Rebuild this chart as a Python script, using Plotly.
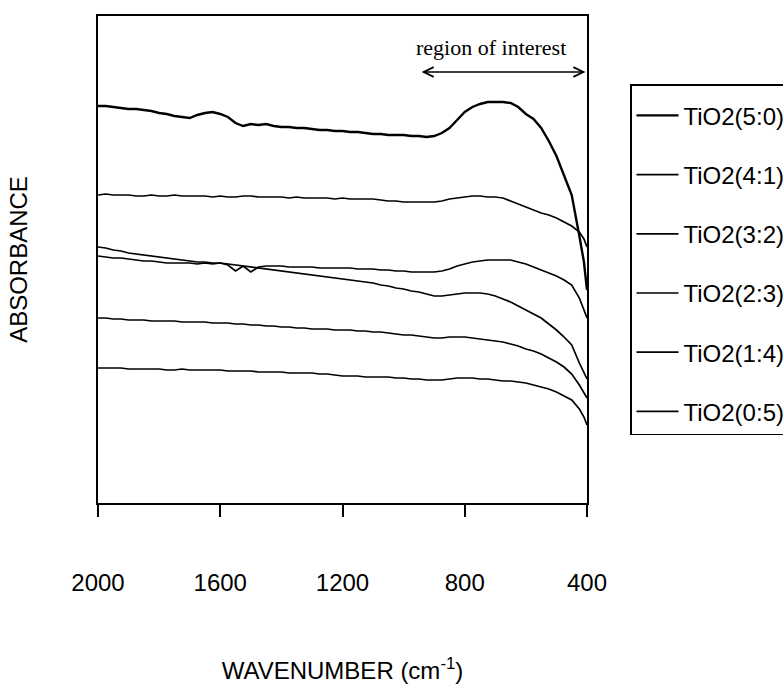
import plotly.graph_objects as go

# FTIR spectra of TiO2 samples (offset absorbance, arbitrary units)
wavenumber = [2000, 1975, 1950, 1925, 1900, 1875, 1850, 1825, 1800, 1775,
              1750, 1725, 1700, 1675, 1650, 1625, 1600, 1575, 1550, 1525,
              1500, 1475, 1450, 1425, 1400, 1375, 1350, 1325, 1300, 1275,
              1250, 1225, 1200, 1175, 1150, 1125, 1100, 1075, 1050, 1025,
              1000, 975, 950, 925, 900, 875, 850, 825, 800, 775,
              750, 725, 700, 675, 650, 625, 600, 575, 550, 525,
              500, 475, 450, 425, 410, 400]

tio2_5_0 = [397, 397, 396, 395, 394, 394, 393, 392, 390, 389,
            387, 386, 385, 388, 390, 391, 389, 386, 380, 377,
            379, 378, 379, 377, 376, 376, 375, 375, 374, 373,
            373, 372, 372, 371, 371, 370, 369, 369, 368, 368,
            368, 367, 367, 366, 367, 370, 375, 383, 391, 396,
            399, 401, 401, 401, 400, 396, 389, 384, 375, 362,
            347, 328, 308, 267, 241, 213]
tio2_4_1 = [308, 309, 308, 308, 308, 307, 307, 308, 307, 307,
            308, 307, 307, 307, 307, 306, 307, 306, 306, 307,
            307, 306, 306, 306, 306, 305, 306, 305, 305, 305,
            305, 304, 305, 304, 304, 304, 304, 303, 302, 302,
            301, 301, 301, 301, 301, 302, 304, 305, 306, 307,
            307, 306, 306, 305, 302, 299, 296, 293, 290, 288,
            285, 281, 277, 271, 264, 256]
tio2_3_2 = [247, 246, 245, 245, 244, 243, 242, 242, 241, 240,
            240, 240, 240, 239, 240, 239, 240, 238, 232, 237,
            231, 236, 237, 237, 237, 236, 236, 236, 236, 235,
            235, 235, 235, 235, 234, 234, 234, 233, 233, 232,
            232, 231, 231, 231, 231, 232, 234, 237, 239, 241,
            242, 243, 243, 243, 243, 241, 239, 236, 233, 230,
            227, 223, 218, 205, 194, 185]
tio2_2_3 = [256, 255, 253, 252, 250, 249, 248, 247, 246, 245,
            244, 243, 242, 241, 241, 240, 240, 239, 238, 237,
            236, 235, 234, 233, 232, 231, 230, 229, 228, 227,
            226, 225, 224, 223, 222, 221, 220, 218, 217, 215,
            214, 212, 211, 209, 207, 207, 208, 209, 210, 210,
            210, 209, 207, 204, 201, 197, 193, 189, 185, 179,
            173, 166, 158, 140, 131, 124]
tio2_1_4 = [185, 185, 184, 184, 183, 183, 183, 182, 182, 182,
            182, 181, 181, 181, 181, 180, 180, 180, 179, 179,
            178, 178, 177, 177, 176, 176, 175, 175, 174, 174,
            174, 173, 173, 173, 172, 172, 171, 171, 170, 169,
            168, 168, 167, 166, 165, 165, 166, 166, 166, 165,
            164, 163, 162, 161, 159, 157, 154, 152, 149, 145,
            141, 136, 129, 118, 111, 105]
tio2_0_5 = [135, 135, 135, 135, 134, 134, 134, 134, 134, 133,
            133, 134, 133, 133, 133, 133, 133, 132, 132, 132,
            132, 131, 131, 131, 131, 130, 130, 130, 130, 129,
            129, 128, 127, 127, 127, 126, 126, 126, 126, 125,
            125, 124, 124, 123, 123, 123, 124, 125, 125, 125,
            124, 124, 123, 122, 122, 121, 120, 118, 116, 114,
            111, 107, 103, 94, 86, 78]

sample_labels = ["TiO2(5:0)", "TiO2(4:1)", "TiO2(3:2)",
                 "TiO2(2:3)", "TiO2(1:4)", "TiO2(0:5)"]
spectra = [tio2_5_0, tio2_4_1, tio2_3_2, tio2_2_3, tio2_1_4, tio2_0_5]
line_widths = [2.4, 1.7, 1.7, 1.7, 1.7, 1.7]

tick_values = [2000, 1600, 1200, 800, 400]
tick_labels = ["2000", "1600", "1200", "800", "400"]

# region of interest (cm-1)
roi_start = 946
roi_end = 405

SANS = "Liberation Sans, Arial, sans-serif"
SERIF = "Liberation Serif, Times New Roman, serif"

fig = go.Figure()
for label, values, lw in zip(sample_labels, spectra, line_widths):
    fig.add_trace(go.Scatter(
        x=wavenumber, y=values, mode="lines", name=label,
        legendgroup=label,
        line=dict(color="black", width=lw),
    ))

fig.update_layout(
    width=783, height=684,
    margin=dict(l=98, r=196, t=16, b=181, autoexpand=False),
    paper_bgcolor="white", plot_bgcolor="white",
    font=dict(family=SANS, size=24, color="black"),
    showlegend=True,
    legend=dict(
        x=(630 - 98) / 489, y=(503 - 84) / 487,
        xanchor="left", yanchor="top",
        bgcolor="white", bordercolor="black", borderwidth=1.5,
        font=dict(family=SANS, size=24, color="black"),
        title=dict(text=" ", font=dict(size=6)),
        itemwidth=42, tracegroupgap=25,
    ),
    xaxis=dict(
        range=[2000, 400],
        tickvals=tick_values, ticktext=tick_labels,
        ticks="outside", ticklen=12, tickwidth=1.5, tickcolor="black",
        ticklabelstandoff=45,
        showline=True, linecolor="black", linewidth=1.5, mirror=True,
        showgrid=False, zeroline=False,
        tickfont=dict(family=SANS, size=24),
        title=dict(text="WAVENUMBER (cm<sup>-1</sup>)",
                   font=dict(family=SANS, size=24), standoff=68),
    ),
    yaxis=dict(
        range=[0, 487],
        showticklabels=False, ticks="",
        showline=True, linecolor="black", linewidth=1.5, mirror=True,
        showgrid=False, zeroline=False,
        title=dict(text="ABSORBANCE",
                   font=dict(family=SANS, size=24), standoff=62),
    ),
)

# double-headed arrow marking the region of interest
fig.add_annotation(
    x=roi_end, y=431, ax=roi_start, ay=431,
    xref="x", yref="y", axref="x", ayref="y",
    text="", showarrow=True, arrowside="end+start",
    arrowhead=5, arrowsize=1.3, arrowwidth=1.5, arrowcolor="black",
    standoff=0, startstandoff=0,
)
fig.add_annotation(
    x=(roi_start + roi_end) / 2 + 40, y=456, xref="x", yref="y",
    text="region of interest", showarrow=False,
    font=dict(family=SERIF, size=22, color="black"),
    xanchor="center", yanchor="middle",
)

fig.write_html("out.html")
